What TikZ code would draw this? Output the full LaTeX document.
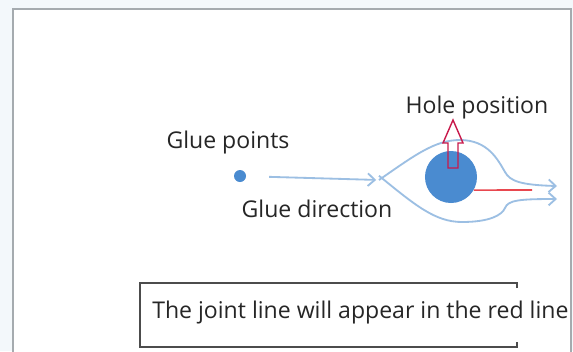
\documentclass[tikz,border=0pt]{standalone}
\usepackage{fontspec}
\setmainfont{Open Sans}
\usetikzlibrary{arrows.meta}

\definecolor{glueblue}{HTML}{4A8BD0}
\definecolor{pathblue}{HTML}{9CBFE3}
\definecolor{jointred}{HTML}{E8474F}
\definecolor{holered}{HTML}{C8194B}
\definecolor{framegray}{HTML}{A5ABAF}
\definecolor{outside}{HTML}{F3F8FB}

\tikzset{
    label/.style={font=\fontsize{16.4}{19}\selectfont, inner sep=0pt, anchor=base, text=black!85},
    flow/.style={draw=pathblue, line width=1.3pt},
    barb/.style={-{Straight Barb[length=5pt,width=9pt]}},
}

\begin{document}
\begin{tikzpicture}[x=0.025cm,y=-0.025cm]
\useasboundingbox (0,0) rectangle (573,351);

% Draw the outer frame
\fill[outside] (0,0) rectangle (573,351);
\draw[framegray, line width=1.5pt, fill=white] (13,9) rectangle (571,380);

% Draw the glue point and the hole
\node[circle, fill=glueblue, inner sep=0pt, minimum size=0.3cm] (dot) at (240,176) {};
\node[circle, fill=glueblue, inner sep=0pt, minimum size=1.3cm] (hole) at (451,177) {};
\coordinate (apex) at (379,180);
\coordinate (upper end) at (557,186);
\coordinate (lower end) at (557,199);
\coordinate (joint end) at (532,190);

% Draw the labels
\node[label] (points) at (228,148) {Glue points};
\node[label] (direction) at (317,217) {Glue direction};
\node[label] (position) at (477,113) {Hole position};
\node[label, anchor=base west] (joint) at (152,318) {The joint line will appear in the red line};

% Draw the glue direction and the flow round the hole
\draw[flow, barb, shorten <=0.57cm, shorten >=2pt] (dot) -- (apex);
\draw[flow, barb] (apex) .. controls (415,155) and (435,140) .. (460,140)
    .. controls (488,140) and (498,160) .. (505,172)
    .. controls (510,181) and (520,185) .. (upper end);
\draw[flow, barb] ([yshift=3]apex) .. controls (415,205) and (435,222) .. (462,222)
    .. controls (490,222) and (502,215) .. (505,208)
    .. controls (508,200) and (520,199) .. (lower end);

% Draw the joint line and the hole marker
\draw[jointred, line width=1.2pt] (hole.-30) -- (joint end);
\draw[holered, line width=1pt, line join=miter]
    (448,168) -- (448,143) -- (443,143) -- (453,120) -- (463,143) -- (458,143) -- (458,168) -- cycle;

% Draw the open box round the note
\draw[black!70, line width=1.2pt] (517,288) -- (517,283) -- (140,283) -- (140,347) -- (517,347) -- (517,342);

\end{tikzpicture}
\end{document}
